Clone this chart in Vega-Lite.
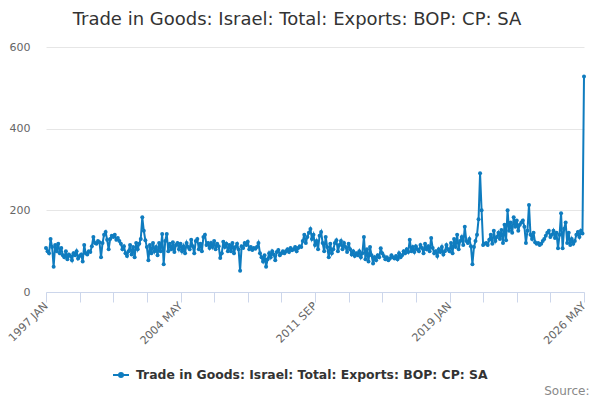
{
  "$schema": "https://vega.github.io/schema/vega-lite/v6.json",
  "width": 538,
  "height": 245,
  "autosize": "none",
  "padding": {"left": 46, "top": 47, "right": 16, "bottom": 108},
  "background": "#ffffff",
  "config": {
    "view": {"stroke": null},
    "font": "DejaVu Sans"
  },
  "title": {
    "text": "Trade in Goods: Israel: Total: Exports: BOP: CP: SA",
    "anchor": "middle",
    "dx": -18,
    "offset": 12,
    "font": "DejaVu Sans",
    "fontSize": 18,
    "fontWeight": "normal",
    "color": "#333333"
  },
  "data": {
    "values": [
      {"m": "1997 JAN", "v": 108}, {"m": "1997 FEB", "v": 100}, {"m": "1997 MAR", "v": 95}, {"m": "1997 APR", "v": 130},
      {"m": "1997 MAY", "v": 110}, {"m": "1997 JUN", "v": 62}, {"m": "1997 JUL", "v": 115}, {"m": "1997 AUG", "v": 100},
      {"m": "1997 SEP", "v": 118}, {"m": "1997 OCT", "v": 95}, {"m": "1997 NOV", "v": 108}, {"m": "1997 DEC", "v": 90},
      {"m": "1998 JAN", "v": 85}, {"m": "1998 FEB", "v": 100}, {"m": "1998 MAR", "v": 80}, {"m": "1998 APR", "v": 92},
      {"m": "1998 MAY", "v": 88}, {"m": "1998 JUN", "v": 78}, {"m": "1998 JUL", "v": 95}, {"m": "1998 AUG", "v": 90},
      {"m": "1998 SEP", "v": 100}, {"m": "1998 OCT", "v": 82}, {"m": "1998 NOV", "v": 88}, {"m": "1998 DEC", "v": 92},
      {"m": "1999 JAN", "v": 75}, {"m": "1999 FEB", "v": 115}, {"m": "1999 MAR", "v": 95}, {"m": "1999 APR", "v": 92},
      {"m": "1999 MAY", "v": 100}, {"m": "1999 JUN", "v": 98}, {"m": "1999 JUL", "v": 112}, {"m": "1999 AUG", "v": 135},
      {"m": "1999 SEP", "v": 120}, {"m": "1999 OCT", "v": 118}, {"m": "1999 NOV", "v": 125}, {"m": "1999 DEC", "v": 122},
      {"m": "2000 JAN", "v": 85}, {"m": "2000 FEB", "v": 120}, {"m": "2000 MAR", "v": 140}, {"m": "2000 APR", "v": 147},
      {"m": "2000 MAY", "v": 128}, {"m": "2000 JUN", "v": 105}, {"m": "2000 JUL", "v": 130}, {"m": "2000 AUG", "v": 138},
      {"m": "2000 SEP", "v": 135}, {"m": "2000 OCT", "v": 140}, {"m": "2000 NOV", "v": 128}, {"m": "2000 DEC", "v": 132},
      {"m": "2001 JAN", "v": 125}, {"m": "2001 FEB", "v": 118}, {"m": "2001 MAR", "v": 105}, {"m": "2001 APR", "v": 112},
      {"m": "2001 MAY", "v": 95}, {"m": "2001 JUN", "v": 88}, {"m": "2001 JUL", "v": 100}, {"m": "2001 AUG", "v": 115},
      {"m": "2001 SEP", "v": 92}, {"m": "2001 OCT", "v": 110}, {"m": "2001 NOV", "v": 85}, {"m": "2001 DEC", "v": 120},
      {"m": "2002 JAN", "v": 105}, {"m": "2002 FEB", "v": 118}, {"m": "2002 MAR", "v": 130}, {"m": "2002 APR", "v": 183},
      {"m": "2002 MAY", "v": 150}, {"m": "2002 JUN", "v": 127}, {"m": "2002 JUL", "v": 110}, {"m": "2002 AUG", "v": 78},
      {"m": "2002 SEP", "v": 115}, {"m": "2002 OCT", "v": 95}, {"m": "2002 NOV", "v": 120}, {"m": "2002 DEC", "v": 100},
      {"m": "2003 JAN", "v": 110}, {"m": "2003 FEB", "v": 90}, {"m": "2003 MAR", "v": 120}, {"m": "2003 APR", "v": 100},
      {"m": "2003 MAY", "v": 142}, {"m": "2003 JUN", "v": 68}, {"m": "2003 JUL", "v": 125}, {"m": "2003 AUG", "v": 142},
      {"m": "2003 SEP", "v": 100}, {"m": "2003 OCT", "v": 118}, {"m": "2003 NOV", "v": 105}, {"m": "2003 DEC", "v": 122},
      {"m": "2004 JAN", "v": 98}, {"m": "2004 FEB", "v": 115}, {"m": "2004 MAR", "v": 120}, {"m": "2004 APR", "v": 105},
      {"m": "2004 MAY", "v": 118}, {"m": "2004 JUN", "v": 100}, {"m": "2004 JUL", "v": 112}, {"m": "2004 AUG", "v": 95},
      {"m": "2004 SEP", "v": 120}, {"m": "2004 OCT", "v": 110}, {"m": "2004 NOV", "v": 105}, {"m": "2004 DEC", "v": 128},
      {"m": "2005 JAN", "v": 112}, {"m": "2005 FEB", "v": 95}, {"m": "2005 MAR", "v": 125}, {"m": "2005 APR", "v": 130},
      {"m": "2005 MAY", "v": 105}, {"m": "2005 JUN", "v": 118}, {"m": "2005 JUL", "v": 100}, {"m": "2005 AUG", "v": 135},
      {"m": "2005 SEP", "v": 140}, {"m": "2005 OCT", "v": 115}, {"m": "2005 NOV", "v": 120}, {"m": "2005 DEC", "v": 108},
      {"m": "2006 JAN", "v": 120}, {"m": "2006 FEB", "v": 110}, {"m": "2006 MAR", "v": 125}, {"m": "2006 APR", "v": 105},
      {"m": "2006 MAY", "v": 118}, {"m": "2006 JUN", "v": 112}, {"m": "2006 JUL", "v": 83}, {"m": "2006 AUG", "v": 95},
      {"m": "2006 SEP", "v": 123}, {"m": "2006 OCT", "v": 110}, {"m": "2006 NOV", "v": 118}, {"m": "2006 DEC", "v": 100},
      {"m": "2007 JAN", "v": 115}, {"m": "2007 FEB", "v": 100}, {"m": "2007 MAR", "v": 120}, {"m": "2007 APR", "v": 95},
      {"m": "2007 MAY", "v": 110}, {"m": "2007 JUN", "v": 118}, {"m": "2007 JUL", "v": 105}, {"m": "2007 AUG", "v": 52},
      {"m": "2007 SEP", "v": 112}, {"m": "2007 OCT", "v": 108}, {"m": "2007 NOV", "v": 120}, {"m": "2007 DEC", "v": 115},
      {"m": "2008 JAN", "v": 123}, {"m": "2008 FEB", "v": 105}, {"m": "2008 MAR", "v": 110}, {"m": "2008 APR", "v": 103},
      {"m": "2008 MAY", "v": 108}, {"m": "2008 JUN", "v": 106}, {"m": "2008 JUL", "v": 110}, {"m": "2008 AUG", "v": 120},
      {"m": "2008 SEP", "v": 95}, {"m": "2008 OCT", "v": 85}, {"m": "2008 NOV", "v": 75}, {"m": "2008 DEC", "v": 90},
      {"m": "2009 JAN", "v": 62}, {"m": "2009 FEB", "v": 80}, {"m": "2009 MAR", "v": 95}, {"m": "2009 APR", "v": 85},
      {"m": "2009 MAY", "v": 100}, {"m": "2009 JUN", "v": 92}, {"m": "2009 JUL", "v": 78}, {"m": "2009 AUG", "v": 98},
      {"m": "2009 SEP", "v": 103}, {"m": "2009 OCT", "v": 90}, {"m": "2009 NOV", "v": 95}, {"m": "2009 DEC", "v": 100},
      {"m": "2010 JAN", "v": 95}, {"m": "2010 FEB", "v": 100}, {"m": "2010 MAR", "v": 105}, {"m": "2010 APR", "v": 98},
      {"m": "2010 MAY", "v": 108}, {"m": "2010 JUN", "v": 102}, {"m": "2010 JUL", "v": 105}, {"m": "2010 AUG", "v": 110},
      {"m": "2010 SEP", "v": 100}, {"m": "2010 OCT", "v": 108}, {"m": "2010 NOV", "v": 112}, {"m": "2010 DEC", "v": 110},
      {"m": "2011 JAN", "v": 125}, {"m": "2011 FEB", "v": 140}, {"m": "2011 MAR", "v": 120}, {"m": "2011 APR", "v": 135},
      {"m": "2011 MAY", "v": 145}, {"m": "2011 JUN", "v": 154}, {"m": "2011 JUL", "v": 130}, {"m": "2011 AUG", "v": 140},
      {"m": "2011 SEP", "v": 115}, {"m": "2011 OCT", "v": 125}, {"m": "2011 NOV", "v": 105}, {"m": "2011 DEC", "v": 138},
      {"m": "2012 JAN", "v": 147}, {"m": "2012 FEB", "v": 120}, {"m": "2012 MAR", "v": 100}, {"m": "2012 APR", "v": 135},
      {"m": "2012 MAY", "v": 110}, {"m": "2012 JUN", "v": 85}, {"m": "2012 JUL", "v": 118}, {"m": "2012 AUG", "v": 95},
      {"m": "2012 SEP", "v": 105}, {"m": "2012 OCT", "v": 120}, {"m": "2012 NOV", "v": 127}, {"m": "2012 DEC", "v": 100},
      {"m": "2013 JAN", "v": 115}, {"m": "2013 FEB", "v": 125}, {"m": "2013 MAR", "v": 105}, {"m": "2013 APR", "v": 120},
      {"m": "2013 MAY", "v": 110}, {"m": "2013 JUN", "v": 98}, {"m": "2013 JUL", "v": 118}, {"m": "2013 AUG", "v": 105},
      {"m": "2013 SEP", "v": 92}, {"m": "2013 OCT", "v": 100}, {"m": "2013 NOV", "v": 88}, {"m": "2013 DEC", "v": 95},
      {"m": "2014 JAN", "v": 90}, {"m": "2014 FEB", "v": 100}, {"m": "2014 MAR", "v": 85}, {"m": "2014 APR", "v": 95},
      {"m": "2014 MAY", "v": 135}, {"m": "2014 JUN", "v": 80}, {"m": "2014 JUL", "v": 105}, {"m": "2014 AUG", "v": 75},
      {"m": "2014 SEP", "v": 110}, {"m": "2014 OCT", "v": 90}, {"m": "2014 NOV", "v": 70}, {"m": "2014 DEC", "v": 85},
      {"m": "2015 JAN", "v": 78}, {"m": "2015 FEB", "v": 90}, {"m": "2015 MAR", "v": 85}, {"m": "2015 APR", "v": 107},
      {"m": "2015 MAY", "v": 95}, {"m": "2015 JUN", "v": 88}, {"m": "2015 JUL", "v": 80}, {"m": "2015 AUG", "v": 85},
      {"m": "2015 SEP", "v": 78}, {"m": "2015 OCT", "v": 82}, {"m": "2015 NOV", "v": 90}, {"m": "2015 DEC", "v": 85},
      {"m": "2016 JAN", "v": 82}, {"m": "2016 FEB", "v": 88}, {"m": "2016 MAR", "v": 80}, {"m": "2016 APR", "v": 95},
      {"m": "2016 MAY", "v": 85}, {"m": "2016 JUN", "v": 90}, {"m": "2016 JUL", "v": 100}, {"m": "2016 AUG", "v": 95},
      {"m": "2016 SEP", "v": 105}, {"m": "2016 OCT", "v": 98}, {"m": "2016 NOV", "v": 128}, {"m": "2016 DEC", "v": 100},
      {"m": "2017 JAN", "v": 110}, {"m": "2017 FEB", "v": 98}, {"m": "2017 MAR", "v": 112}, {"m": "2017 APR", "v": 105},
      {"m": "2017 MAY", "v": 100}, {"m": "2017 JUN", "v": 115}, {"m": "2017 JUL", "v": 108}, {"m": "2017 AUG", "v": 95},
      {"m": "2017 SEP", "v": 118}, {"m": "2017 OCT", "v": 105}, {"m": "2017 NOV", "v": 112}, {"m": "2017 DEC", "v": 100},
      {"m": "2018 JAN", "v": 132}, {"m": "2018 FEB", "v": 108}, {"m": "2018 MAR", "v": 95}, {"m": "2018 APR", "v": 100},
      {"m": "2018 MAY", "v": 88}, {"m": "2018 JUN", "v": 105}, {"m": "2018 JUL", "v": 98}, {"m": "2018 AUG", "v": 110},
      {"m": "2018 SEP", "v": 92}, {"m": "2018 OCT", "v": 100}, {"m": "2018 NOV", "v": 115}, {"m": "2018 DEC", "v": 105},
      {"m": "2019 JAN", "v": 100}, {"m": "2019 FEB", "v": 120}, {"m": "2019 MAR", "v": 95}, {"m": "2019 APR", "v": 130},
      {"m": "2019 MAY", "v": 110}, {"m": "2019 JUN", "v": 140}, {"m": "2019 JUL", "v": 105}, {"m": "2019 AUG", "v": 125},
      {"m": "2019 SEP", "v": 135}, {"m": "2019 OCT", "v": 115}, {"m": "2019 NOV", "v": 160}, {"m": "2019 DEC", "v": 125},
      {"m": "2020 JAN", "v": 120}, {"m": "2020 FEB", "v": 130}, {"m": "2020 MAR", "v": 112}, {"m": "2020 APR", "v": 68},
      {"m": "2020 MAY", "v": 110}, {"m": "2020 JUN", "v": 125}, {"m": "2020 JUL", "v": 140}, {"m": "2020 AUG", "v": 178},
      {"m": "2020 SEP", "v": 291}, {"m": "2020 OCT", "v": 200}, {"m": "2020 NOV", "v": 115}, {"m": "2020 DEC", "v": 118},
      {"m": "2021 JAN", "v": 120}, {"m": "2021 FEB", "v": 115}, {"m": "2021 MAR", "v": 128}, {"m": "2021 APR", "v": 140},
      {"m": "2021 MAY", "v": 118}, {"m": "2021 JUN", "v": 150}, {"m": "2021 JUL", "v": 125}, {"m": "2021 AUG", "v": 135},
      {"m": "2021 SEP", "v": 145}, {"m": "2021 OCT", "v": 130}, {"m": "2021 NOV", "v": 152}, {"m": "2021 DEC", "v": 120},
      {"m": "2022 JAN", "v": 165}, {"m": "2022 FEB", "v": 127}, {"m": "2022 MAR", "v": 200}, {"m": "2022 APR", "v": 150},
      {"m": "2022 MAY", "v": 170}, {"m": "2022 JUN", "v": 145}, {"m": "2022 JUL", "v": 183}, {"m": "2022 AUG", "v": 160},
      {"m": "2022 SEP", "v": 175}, {"m": "2022 OCT", "v": 150}, {"m": "2022 NOV", "v": 165}, {"m": "2022 DEC", "v": 170},
      {"m": "2023 JAN", "v": 175}, {"m": "2023 FEB", "v": 160}, {"m": "2023 MAR", "v": 120}, {"m": "2023 APR", "v": 150},
      {"m": "2023 MAY", "v": 213}, {"m": "2023 JUN", "v": 140}, {"m": "2023 JUL", "v": 130}, {"m": "2023 AUG", "v": 145},
      {"m": "2023 SEP", "v": 122}, {"m": "2023 OCT", "v": 118}, {"m": "2023 NOV", "v": 120}, {"m": "2023 DEC", "v": 115},
      {"m": "2024 JAN", "v": 118}, {"m": "2024 FEB", "v": 125}, {"m": "2024 MAR", "v": 130}, {"m": "2024 APR", "v": 138},
      {"m": "2024 MAY", "v": 145}, {"m": "2024 JUN", "v": 150}, {"m": "2024 JUL", "v": 135}, {"m": "2024 AUG", "v": 140},
      {"m": "2024 SEP", "v": 150}, {"m": "2024 OCT", "v": 132}, {"m": "2024 NOV", "v": 145}, {"m": "2024 DEC", "v": 107},
      {"m": "2025 JAN", "v": 140}, {"m": "2025 FEB", "v": 193}, {"m": "2025 MAR", "v": 107}, {"m": "2025 APR", "v": 155},
      {"m": "2025 MAY", "v": 170}, {"m": "2025 JUN", "v": 120}, {"m": "2025 JUL", "v": 145}, {"m": "2025 AUG", "v": 115},
      {"m": "2025 SEP", "v": 130}, {"m": "2025 OCT", "v": 118}, {"m": "2025 NOV", "v": 125}, {"m": "2025 DEC", "v": 140},
      {"m": "2026 JAN", "v": 147}, {"m": "2026 FEB", "v": 135}, {"m": "2026 MAR", "v": 150}, {"m": "2026 APR", "v": 143},
      {"m": "2026 MAY", "v": 528}
    ]
  },
  "mark": {
    "type": "line",
    "strokeWidth": 2,
    "point": {"filled": true, "size": 16}
  },
  "encoding": {
    "x": {
      "field": "m",
      "type": "ordinal",
      "sort": null,
      "scale": {"type": "point", "padding": 0},
      "axis": {
        "title": "Source:",
        "titleAnchor": "end",
        "titleAlign": "right",
        "titleBaseline": "alphabetic",
        "titleX": 543,
        "titleY": 102,
        "titleFont": "DejaVu Sans",
        "titleFontSize": 12,
        "titleFontWeight": "normal",
        "titleColor": "#888888",
        "values": ["1997 JAN", "1998 NOV", "2000 SEP", "2002 JUL", "2004 MAY", "2006 MAR", "2008 JAN", "2009 NOV", "2011 SEP", "2013 JUL", "2015 MAY", "2017 MAR", "2019 JAN", "2020 NOV", "2022 SEP", "2024 JUL", "2026 MAY"],
        "labelExpr": "indexof(['1997 JAN','2004 MAY','2011 SEP','2019 JAN','2026 MAY'], datum.value) >= 0 ? datum.value : ''",
        "labelAngle": -45,
        "labelAlign": "right",
        "labelBaseline": "middle",
        "labelPadding": 2,
        "labelOverlap": false,
        "labelBound": false,
        "labelFont": "DejaVu Sans",
        "labelFontSize": 11,
        "labelColor": "#666666",
        "domainColor": "#ccd6eb",
        "domainWidth": 1,
        "tickColor": "#ccd6eb",
        "tickSize": 10,
        "grid": false
      }
    },
    "y": {
      "field": "v",
      "type": "quantitative",
      "scale": {"domain": [0, 600], "nice": false},
      "axis": {
        "title": null,
        "values": [0, 200, 400, 600],
        "domain": false,
        "ticks": false,
        "grid": true,
        "gridColor": "#e6e6e6",
        "labelPadding": 16,
        "labelFont": "DejaVu Sans",
        "labelFontSize": 11,
        "labelColor": "#666666"
      }
    },
    "color": {
      "datum": "Trade in Goods: Israel: Total: Exports: BOP: CP: SA",
      "type": "nominal",
      "scale": {"range": ["#0f7cbf"]},
      "legend": {
        "title": null,
        "orient": "none",
        "legendX": 66,
        "legendY": 319,
        "padding": 0,
        "symbolType": "M-1,0L1,0M-0.25,0A0.25,0.25,0,1,1,0.25,0A0.25,0.25,0,1,1,-0.25,0Z",
        "symbolSize": 256,
        "symbolStrokeWidth": 2,
        "symbolFillColor": "#0f7cbf",
        "symbolStrokeColor": "#0f7cbf",
        "labelOffset": 6,
        "labelLimit": 600,
        "labelFont": "DejaVu Sans",
        "labelFontSize": 12.4,
        "labelFontWeight": "bold",
        "labelColor": "#333333"
      }
    }
  }
}
